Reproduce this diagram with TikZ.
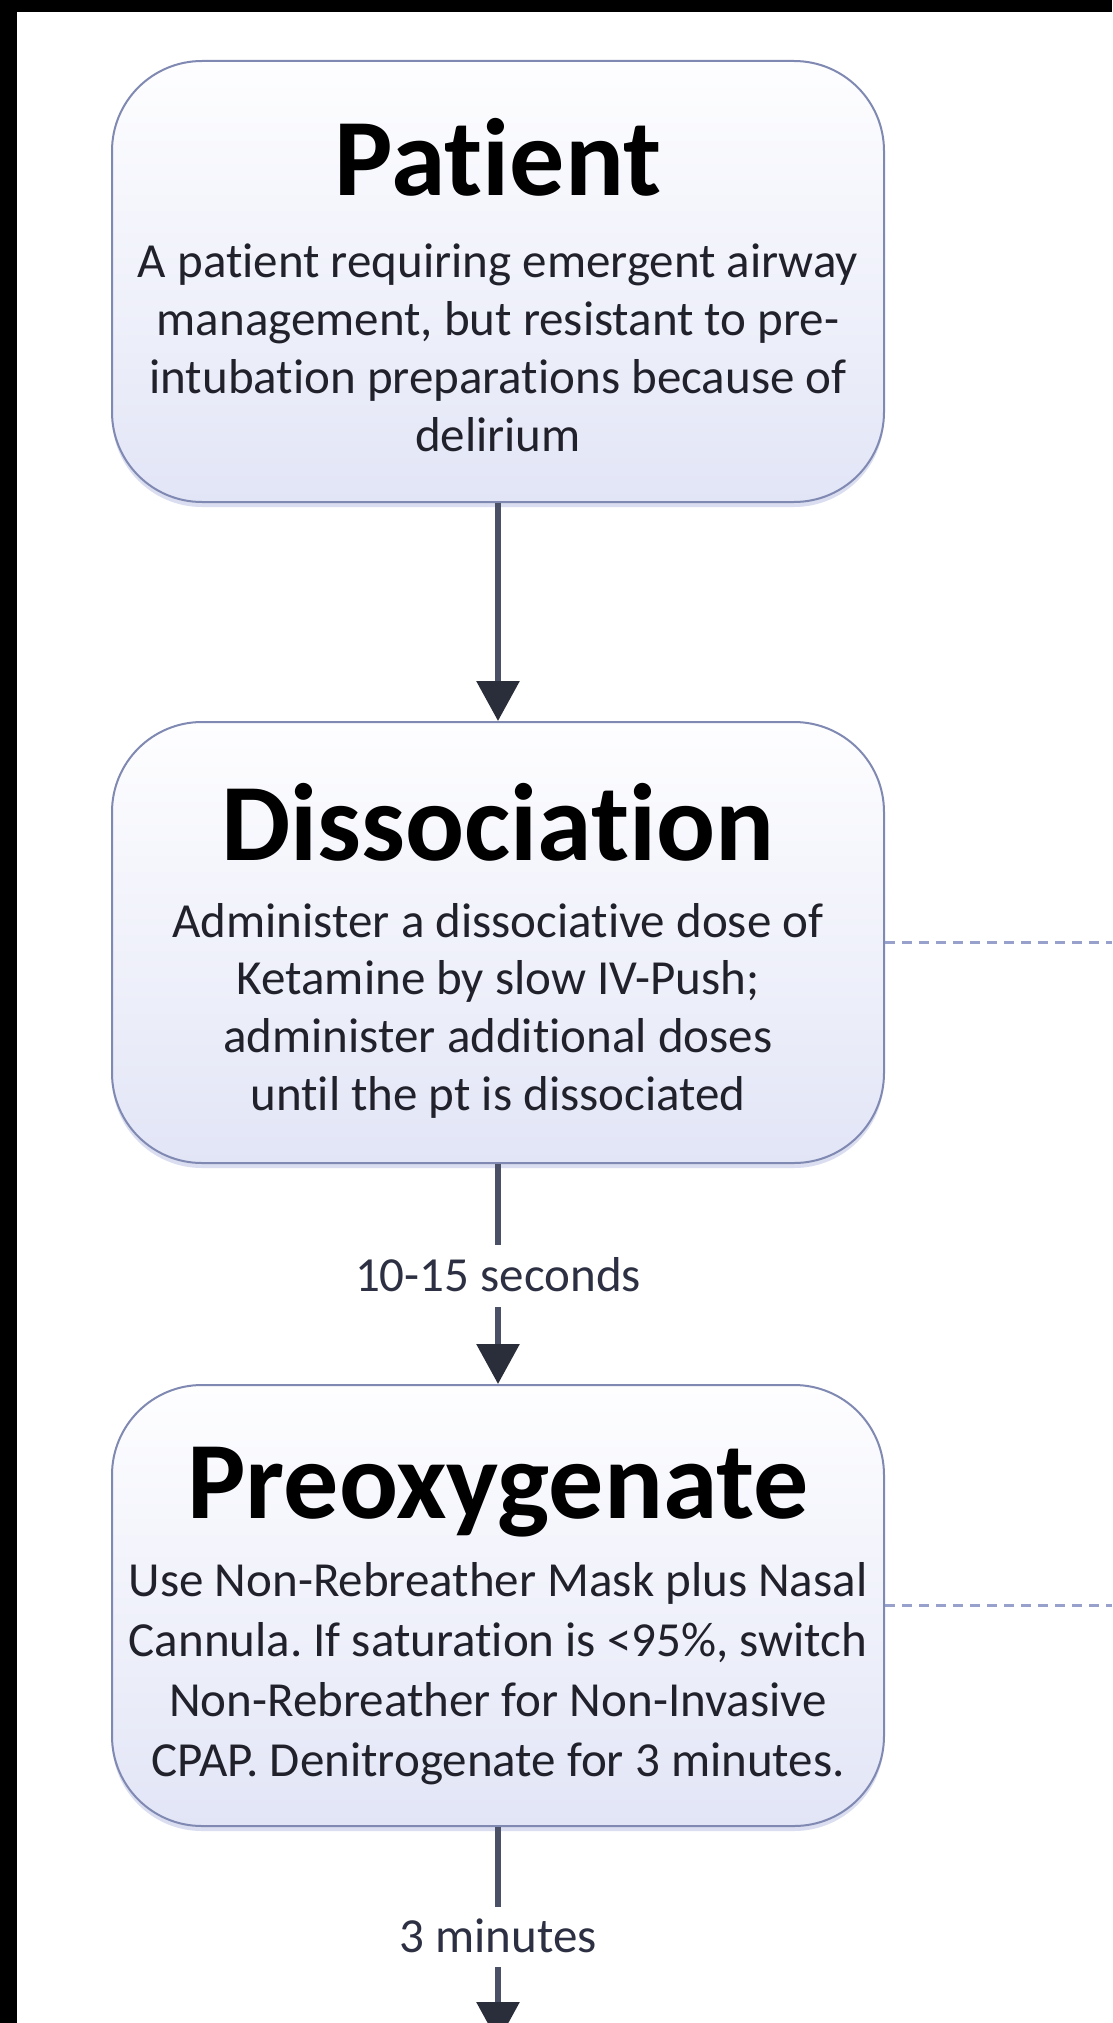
\documentclass[tikz,border=0pt]{standalone}
\usepackage{fontspec}
\setmainfont{Carlito}[Ligatures=NoCommon]
\usetikzlibrary{arrows.meta}
\definecolor{boxline}{HTML}{8089B2}
\definecolor{boxtop}{HTML}{FEFEFF}
\definecolor{boxbot}{HTML}{E2E5F6}
\definecolor{shadowc}{HTML}{DADEF0}
\definecolor{conn}{HTML}{4A5066}
\definecolor{headc}{HTML}{2A2D3A}
\definecolor{dashc}{HTML}{98A1CC}
\definecolor{bodyc}{HTML}{20212A}
\definecolor{lblc}{HTML}{2C3042}
\frenchspacing
\begin{document}
\begin{tikzpicture}[x=1pt,y=-1pt,
  stepbox/.style={draw=boxline, line width=2pt, rounded corners=90pt,
    minimum width=772pt, minimum height=441pt, inner sep=0pt,
    top color=boxtop, bottom color=boxbot},
  shadowbox/.style={fill=shadowc, rounded corners=90pt,
    minimum width=772pt, minimum height=441pt, inner sep=0pt},
  ttl/.style={font=\fontsize{110}{132}\selectfont\bfseries, text=black, inner sep=0pt, anchor=base},
  bodyline/.style={font=\fontsize{49}{59}\selectfont, text=bodyc, inner sep=0pt, anchor=base},
  lbl/.style={font=\fontsize{49}{59}\selectfont, text=lblc, inner sep=0pt,
    text height=31pt, text depth=0pt},
  connline/.style={draw=conn, line width=6pt},
  connarrow/.style={connline, -{Triangle[length=40pt,width=42pt,color=headc]}},
  dashline/.style={draw=dashc, line width=2.5pt, dash pattern=on 10pt off 7pt}
]
\useasboundingbox (0,0) rectangle (1112,2023);
\clip (0,0) rectangle (1112,2023);
\fill[white] (0,0) rectangle (1112,2023);
\fill[black] (0,0) rectangle (17,2023);
\fill[black] (0,0) rectangle (1112,12);

\coordinate (rightedge) at (1112,0);

% shadows
\node[shadowbox] (patS) at (498,286.5) {};
\node[shadowbox] (disS) at (498,947.5) {};
\node[shadowbox] (preS) at (498,1610.5) {};

% boxes
\node[stepbox] (pat) at (498,281.5) {};
\node[stepbox] (dis) at (498,942.5) {};
\node[stepbox] (pre) at (498,1605.5) {};

% titles
\node[ttl] (patT) at (498,195) {Patient};
\node[ttl] (disT) at (498,860) {Dissociation};
\node[ttl] (preT) at (498,1518) {Preoxygenate};

% body text
\foreach \yy/\txt [count=\i] in {277/{A patient requiring emergent airway},
  335/{management, but resistant to pre-},
  393/{intubation preparations because of},
  451/{delirium}}
  \node[bodyline] (pat-\i) at (498,\yy) {\txt};
\foreach \yy/\txt [count=\i] in {937/{Administer a dissociative dose of},
  994.7/{Ketamine by slow IV-Push;},
  1052.3/{administer additional doses},
  1110/{until the pt is dissociated}}
  \node[bodyline] (dis-\i) at (498,\yy) {\txt};
\foreach \yy/\txt [count=\i] in {1596/{Use Non-Rebreather Mask plus Nasal},
  1656/{Cannula. If saturation is <95\%, switch},
  1716/{Non-Rebreather for Non-Invasive},
  1776/{CPAP. Denitrogenate for 3 minutes.}}
  \node[bodyline] (pre-\i) at (498,\yy) {\txt};

% labels
\node[lbl, minimum height=62pt] (l1) at (498,1276) {10-15 seconds};
\node[lbl, minimum height=60pt] (l2) at (498,1937) {3 minutes};
\coordinate (endc) at (498,2042);

% connectors
\draw[connarrow] (pat.south) -- (dis.north);
\draw[connline] (dis.south) -- (l1.north);
\draw[connarrow] (l1.south) -- (pre.north);
\draw[connline] (pre.south) -- (l2.north);
\draw[connarrow] (l2.south) -- (endc);

% dashed
\draw[dashline] (dis.east) -- (dis.east -| rightedge);
\draw[dashline] (pre.east) -- (pre.east -| rightedge);
\end{tikzpicture}
\end{document}
